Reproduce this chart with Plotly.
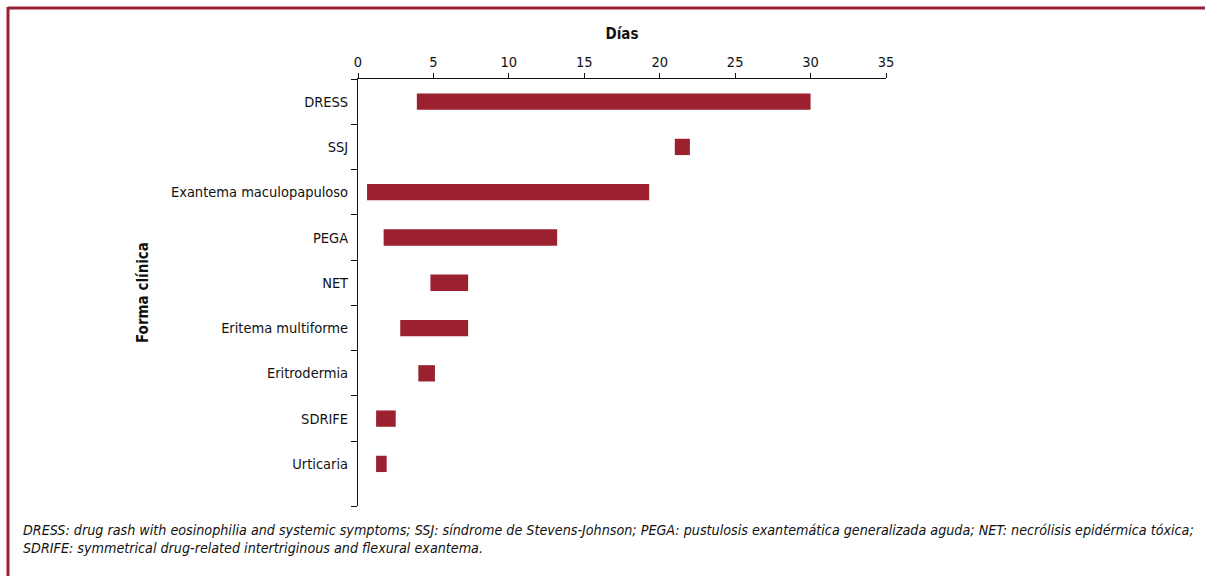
import plotly.graph_objects as go

categories = ["DRESS", "SSJ", "Exantema maculopapuloso", "PEGA", "NET",
              "Eritema multiforme", "Eritrodermia", "SDRIFE", "Urticaria"]
start_days = [3.9, 21.0, 0.6, 1.7, 4.8, 2.8, 4.0, 1.2, 1.2]
end_days = [30.0, 22.0, 19.3, 13.2, 7.3, 7.3, 5.1, 2.5, 1.9]
x_ticks = [0, 5, 10, 15, 20, 25, 30, 35]

positions = list(range(len(categories)))
durations = [e - s for s, e in zip(start_days, end_days)]

FONT = "DejaVu Sans Condensed, Roboto, sans-serif"
RED = "#9b2131"

fig = go.Figure()
fig.add_trace(go.Bar(
    y=positions, x=durations, base=start_days, orientation="h",
    width=0.36, marker=dict(color=RED, line=dict(width=0)),
    hovertext=categories, showlegend=False,
))

L, R, T, B = 358, 319, 79, 70
W, H = 1205, 576
pw, ph = W - L - R, H - T - B

def px(x):
    return (x - L) / pw

def py(y):
    return (H - B - y) / ph

fig.update_layout(
    width=W, height=H,
    margin=dict(l=L, r=R, t=T, b=B),
    paper_bgcolor="white", plot_bgcolor="white",
    font=dict(family=FONT, size=14.5, color="#111"),
    xaxis=dict(
        side="top", range=[0, 35], tickvals=x_ticks,
        showgrid=False, zeroline=False, showline=True, linecolor="#111", linewidth=1,
        ticks="outside", ticklen=5, tickcolor="#111",
        tickfont=dict(size=14.5),
        title=dict(text="<b>Días</b>", font=dict(size=15), standoff=10),
    ),
    yaxis=dict(
        range=[8.93, -0.5], tickvals=positions, ticktext=categories,
        showgrid=False, zeroline=False, showline=True, linecolor="#111", linewidth=1,
        ticks="", ticklabelstandoff=6,
        tickfont=dict(size=14.5),
        minor=dict(tickvals=[-0.5, 0.5, 1.5, 2.5, 3.5, 4.5, 5.5, 6.5, 7.5, 8.93],
                   ticks="outside", ticklen=6, tickcolor="#111", showgrid=False),
        title=dict(text="<b>Forma clínica</b>", font=dict(size=15), standoff=18),
    ),
    shapes=[
        dict(type="line", xref="paper", yref="paper", x0=px(8), x1=px(1205), y0=py(8), y1=py(8),
             line=dict(color=RED, width=3)),
        dict(type="line", xref="paper", yref="paper", x0=px(8), x1=px(8), y0=py(7), y1=py(576),
             line=dict(color=RED, width=3)),
    ],
    annotations=[
        dict(xref="paper", yref="paper", x=px(21), y=py(520), xanchor="left", yanchor="top",
             align="left", showarrow=False,
             font=dict(family=FONT, size=14.2, color="#111"),
             text="<i>DRESS: drug rash with eosinophilia and systemic symptoms; SSJ: síndrome de Stevens-Johnson; "
                  "PEGA: pustulosis exantemática generalizada aguda; NET: necrólisis epidérmica tóxica;</i><br>"
                  "<i>SDRIFE: symmetrical drug-related intertriginous and flexural exantema.</i>"),
    ],
)

fig.write_html("out.html")
